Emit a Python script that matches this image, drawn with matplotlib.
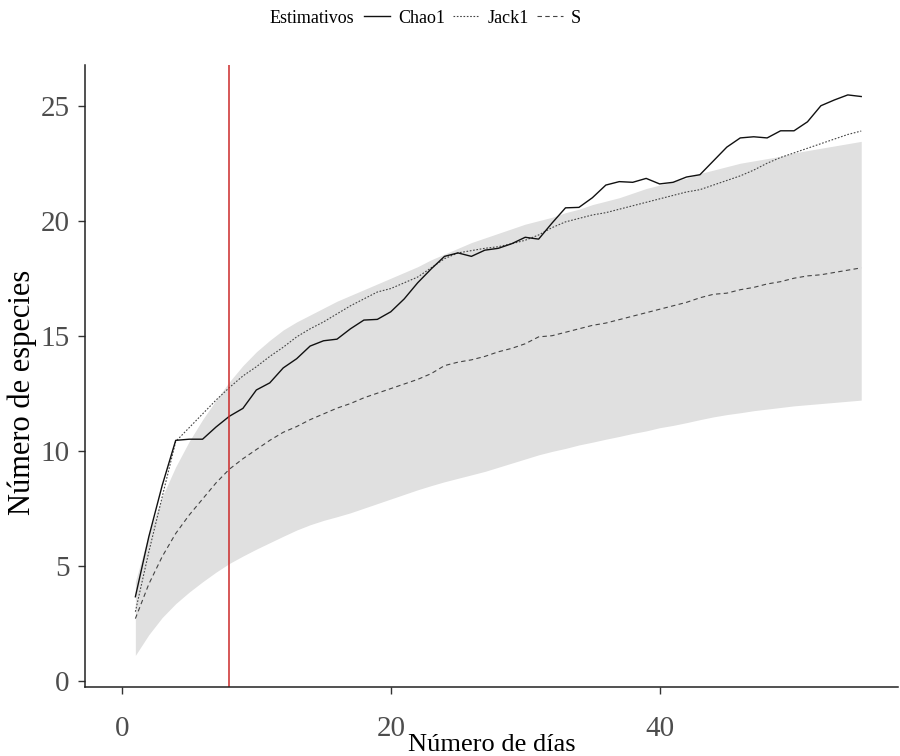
import matplotlib.pyplot as plt
from matplotlib.lines import Line2D
import numpy as np

# days of sampling
dias = np.arange(1, 56)

chao1 = [3.65, 6.26, 8.5, 10.45, 10.5, 10.5, 11.03, 11.5, 11.84, 12.64,
         12.95, 13.6, 14.0, 14.55, 14.78, 14.85, 15.3, 15.68, 15.71, 16.04,
         16.6, 17.3, 17.9, 18.45, 18.6, 18.45, 18.72, 18.8, 19.0, 19.28,
         19.2, 19.9, 20.56, 20.58, 21.0, 21.55, 21.7, 21.67, 21.84, 21.6,
         21.67, 21.9, 22.0, 22.6, 23.2, 23.6, 23.65, 23.6, 23.91, 23.91,
         24.3, 25.0, 25.25, 25.47, 25.4]

jack1 = [3.0, 5.6, 8.0, 10.4, 11.0, 11.6, 12.2, 12.75, 13.25, 13.65,
         14.1, 14.5, 14.95, 15.3, 15.6, 15.95, 16.3, 16.6, 16.9, 17.05,
         17.3, 17.55, 17.95, 18.35, 18.6, 18.7, 18.8, 18.87, 19.0, 19.15,
         19.38, 19.7, 19.95, 20.1, 20.25, 20.35, 20.5, 20.65, 20.8, 20.95,
         21.1, 21.25, 21.35, 21.55, 21.75, 21.95, 22.2, 22.5, 22.75, 22.95,
         23.15, 23.35, 23.55, 23.75, 23.9]

s_obs = [2.7, 4.2, 5.4, 6.4, 7.2, 7.9, 8.6, 9.2, 9.65, 10.05,
         10.45, 10.8, 11.05, 11.35, 11.6, 11.85, 12.05, 12.3, 12.5, 12.7,
         12.9, 13.1, 13.35, 13.7, 13.85, 13.95, 14.1, 14.3, 14.45, 14.65,
         14.95, 15.0, 15.15, 15.3, 15.45, 15.55, 15.7, 15.85, 16.0, 16.15,
         16.3, 16.45, 16.65, 16.8, 16.85, 17.0, 17.1, 17.25, 17.35, 17.5,
         17.6, 17.65, 17.75, 17.85, 17.95]

s_low = [1.1, 2.0, 2.75, 3.35, 3.85, 4.3, 4.72, 5.1, 5.42, 5.72,
         6.0, 6.28, 6.55, 6.78, 6.97, 7.13, 7.3, 7.5, 7.7, 7.9,
         8.1, 8.3, 8.48, 8.65, 8.8, 8.95, 9.1, 9.28, 9.46, 9.64,
         9.82, 9.97, 10.1, 10.25, 10.37, 10.5, 10.62, 10.75, 10.86, 11.0,
         11.1, 11.22, 11.35, 11.47, 11.57, 11.65, 11.74, 11.81, 11.88, 11.95,
         12.0, 12.05, 12.1, 12.15, 12.2]

s_up = [4.3, 6.4, 8.0, 9.3, 10.4, 11.35, 12.2, 13.0, 13.7, 14.3,
        14.8, 15.25, 15.6, 15.9, 16.2, 16.5, 16.75, 17.0, 17.25, 17.5,
        17.75, 18.0, 18.3, 18.55, 18.8, 19.05, 19.25, 19.45, 19.65, 19.85,
        20.0, 20.15, 20.35, 20.5, 20.7, 20.85, 21.0, 21.2, 21.4, 21.55,
        21.7, 21.85, 22.05, 22.2, 22.35, 22.5, 22.6, 22.7, 22.8, 22.95,
        23.05, 23.15, 23.25, 23.35, 23.45]

corte = 8

plt.rcParams["font.family"] = ["Liberation Serif", "DejaVu Serif"]

fig = plt.figure(figsize=(9, 7.56), dpi=100)
ax = fig.add_axes([0.0944, 0.0917, 0.9036, 0.8223])

ax.fill_between(dias, s_low, s_up, color="#e0e0e0", lw=0)
ax.plot(dias, s_obs, color="#444444", lw=0.8, dashes=(4, 3), label="S")
ax.plot(dias, jack1, color="#444444", lw=0.8, dashes=(1.5, 1.5), label="Jack1")
ax.plot(dias, chao1, color="#111111", lw=1.0, label="Chao1")
ax.axvline(corte, color="#cc2a2a", lw=1.1)

ax.set_xlim(-2.75, 57.75)
ax.set_ylim(-0.26, 26.77)
ax.set_xticks([0, 20, 40])
ax.set_yticks([0, 5, 10, 15, 20, 25])

for side in ["top", "right"]:
    ax.spines[side].set_visible(False)
for side in ["left", "bottom"]:
    ax.spines[side].set_color("#222222")
    ax.spines[side].set_linewidth(1.1)

ax.tick_params(length=5, width=1.0, color="#333333", labelsize=21,
               labelcolor="#4d4d4d")
ax.tick_params(axis="x", pad=16)
ax.tick_params(axis="y", pad=6)
ax.set_xlabel("Número de días", fontsize=19, labelpad=-6)
ax.set_ylabel("Número de especies", fontsize=22)
ax.yaxis.set_label_coords(-0.059, 0.473)

handles = [
    Line2D([], [], color="#111111", lw=1.0),
    Line2D([], [], color="#444444", lw=0.8, dashes=(1.5, 1.5)),
    Line2D([], [], color="#444444", lw=0.8, dashes=(4, 3)),
]
fig.text(0.30, 0.976, "Estimativos", fontsize=13, ha="left", va="center")
fig.legend(handles, ["Chao1", "Jack1", "S"], loc="center left",
           bbox_to_anchor=(0.404, 0.976), ncol=3, frameon=False,
           fontsize=13, handlelength=1.45, handletextpad=0.45,
           columnspacing=0.45, borderaxespad=0, borderpad=0)

fig.savefig("out.png", dpi=100)
